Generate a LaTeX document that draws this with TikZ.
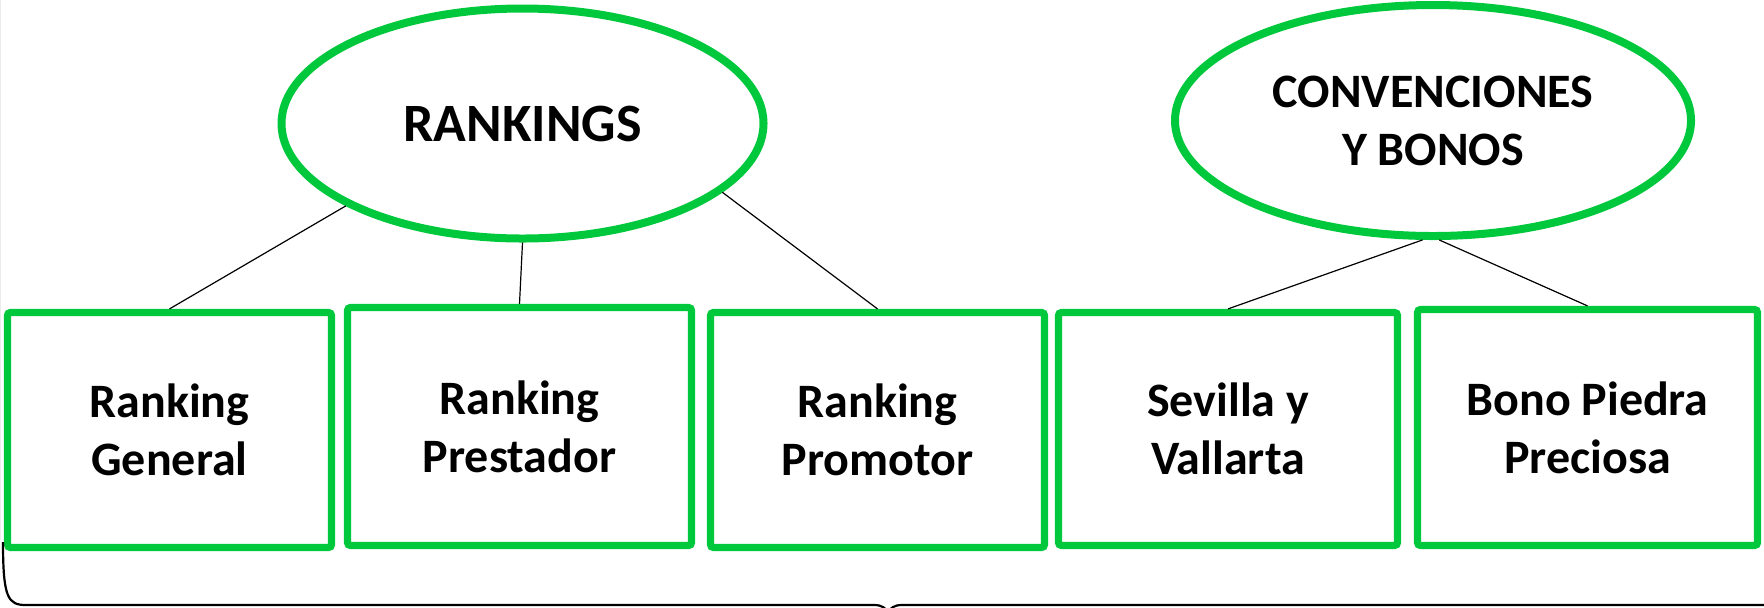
\documentclass[tikz,border=0pt]{standalone}
\usepackage{fontspec}
\setmainfont{Carlito}
\usetikzlibrary{shapes.geometric}
\definecolor{boxgreen}{RGB}{0,200,60}
\tikzset{
  bubble/.style={ellipse, draw=boxgreen, line width=4pt, fill=white, inner sep=0pt, align=center,
     font=\fontsize{24}{29}\selectfont\bfseries},
  itembox/.style={rectangle, draw=boxgreen, line width=3.6pt, rounded corners=1.5pt, fill=white, inner sep=0pt, align=center,
     font=\fontsize{24}{29}\selectfont\bfseries},
  link/.style={draw=black, line width=0.6pt},
  bracket/.style={draw=black, line width=1.1pt}
}
\begin{document}
\begin{tikzpicture}[x=0.5pt,y=-0.5pt]
\useasboundingbox (0,0) rectangle (1764,607);
\draw[gray!15, line width=0.6pt] (0.6,0) -- (0.6,540);
% ellipses
\node[bubble, minimum width=241pt, minimum height=115pt, font=\fontsize{27}{31}\selectfont\bfseries] (rk) at (522.5,123.5) {RANKINGS};
\node[bubble, minimum width=258pt, minimum height=115.5pt] (cb) at (1433,120.5) {CONVENCIONES\\Y BONOS};
% boxes
\node[itembox, minimum width=162pt, minimum height=117.5pt] (b1) at (169.5,430) {Ranking\\General};
\node[itembox, minimum width=172pt, minimum height=119pt] (b2) at (519.5,426.5) {Ranking\\Prestador};
\node[itembox, minimum width=167pt, minimum height=117.5pt] (b3) at (877.5,430) {Ranking\\Promotor};
\node[itembox, minimum width=169.5pt, minimum height=116.5pt] (b4) at (1228,429) {Sevilla y\\Vallarta};
\node[itembox, minimum width=170pt, minimum height=118pt] (b5) at (1587.5,427.5) {Bono Piedra\\Preciosa};
% connectors
\draw[link] (rk.205.8) -- (b1.north);
\draw[link] (rk.270) -- (b2.north);
\draw[link] (rk.341.6) -- (b3.north);
\draw[link] (cb.265.1) -- (b4.north);
\draw[link] (cb.273.4) -- (b5.north);
% bracket below
\coordinate (bl) at (3,542);
\coordinate (bt) at (888,613);
\coordinate (br) at (1770,605);
\draw[bracket] (bl) .. controls (3,598) and (8,605) .. (26,605) -- (874,605)
  .. controls (882,605) and (886,608) .. (bt);
\draw[bracket] (bt) .. controls (890,608) and (894,605) .. (902,605) -- (br);
\end{tikzpicture}
\end{document}
